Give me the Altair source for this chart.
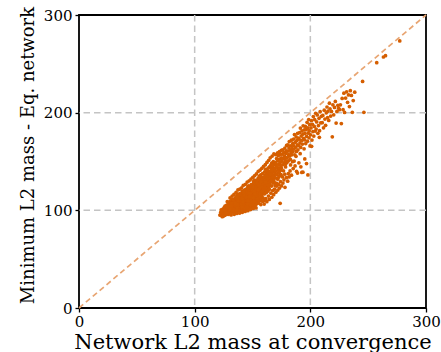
import altair as alt
import pandas as pd

# (network L2 mass at convergence, minimum L2 mass - Eq. network)
core_pts = [
    (121.8,95.2),(122.5,97.8),(123.1,94.6),(123.6,99.5),(124.0,96.9),(124.4,101.3),(124.8,94.1),(122.9,100.4),(124.6,98.2),(123.9,93.5),
    (125.1,96.3),(125.3,99.8),(125.5,102.7),(125.7,94.8),(125.9,98.4),(126.1,101.1),(126.2,104.3),(126.4,96.9),(126.6,99.2),(126.8,103.0),
    (127.0,95.6),(127.1,100.7),(127.3,97.9),(127.5,105.2),(127.6,102.1),(127.8,98.8),(128.0,96.2),(128.1,101.6),(128.3,104.5),(128.4,99.5),
    (128.6,97.4),(128.8,102.9),(128.9,106.3),(129.1,100.2),(129.2,95.9),(129.4,103.7),(129.5,98.1),(129.7,101.4),(129.8,105.8),(129.9,97.0),
    (125.8,100.5),(126.9,97.3),(127.9,103.6),(128.7,100.9),(129.6,99.3),
    (130.0,98.2),(130.1,102.5),(130.2,106.9),(130.3,100.1),(130.5,104.0),(130.6,109.3),(130.7,97.5),(130.8,101.8),(131.0,105.6),(131.1,99.4),
    (131.2,103.2),(131.3,108.0),(131.5,101.0),(131.6,106.2),(131.7,98.7),(131.8,104.7),(132.0,110.4),(132.1,102.3),(132.2,100.0),(132.3,107.5),
    (132.4,104.1),(132.6,98.9),(132.7,105.8),(132.8,102.0),(132.9,111.2),(133.0,100.6),(133.1,106.9),(133.2,103.5),(133.4,108.8),(133.5,99.6),
    (133.6,104.9),(133.7,101.7),(133.8,107.1),(134.0,103.0),(134.1,110.0),(134.2,98.3),(134.3,105.4),(134.4,101.2),(134.5,108.2),(134.6,103.9),
    (134.7,106.5),(134.8,100.4),(134.9,112.3),(130.4,103.1),(131.4,96.9),(132.5,103.8),(133.3,101.4),(133.9,105.2),(134.4,97.6),(131.9,106.8),
    (130.9,100.9),(132.9,99.3),(133.6,110.5),(134.2,107.7),(131.3,104.4),
    (135.0,101.5),(135.1,105.7),(135.2,110.2),(135.3,99.0),(135.4,103.4),(135.5,107.8),(135.6,113.6),(135.7,101.9),(135.8,106.3),(135.9,109.9),
    (136.0,104.0),(136.1,98.8),(136.2,111.7),(136.3,106.9),(136.4,102.6),(136.5,108.7),(136.6,115.0),(136.7,104.8),(136.8,100.5),(136.9,110.9),
    (137.0,107.3),(137.1,103.1),(137.2,113.0),(137.3,100.0),(137.4,105.9),(137.5,109.4),(137.6,102.2),(137.7,116.4),(137.8,107.0),(137.9,104.4),
    (138.0,111.5),(138.1,99.7),(138.2,106.1),(138.3,108.9),(138.4,102.8),(138.5,113.9),(138.6,105.3),(138.7,110.1),(138.8,101.0),(138.9,107.7),
    (139.0,104.6),(139.1,117.2),(139.2,109.0),(139.3,103.3),(139.4,112.4),(139.5,100.9),(139.6,106.7),(139.7,114.8),(139.8,108.3),(139.9,102.1),
    (135.5,104.6),(136.4,112.9),(137.3,110.5),(138.2,103.9),(139.2,106.0),(135.9,99.8),(136.8,107.9),(137.9,101.5),(138.7,115.8),(139.6,111.3),
    (135.2,107.1),(136.6,102.3),(137.5,106.4),(138.4,109.6),(139.4,105.0),
    (140.0,103.2),(140.1,107.9),(140.2,112.6),(140.3,100.4),(140.4,116.0),(140.5,105.5),(140.6,110.2),(140.7,98.9),(140.8,114.1),(140.9,108.3),
    (141.0,102.7),(141.1,119.3),(141.2,106.6),(141.3,111.8),(141.4,104.1),(141.5,109.4),(141.6,100.8),(141.7,115.6),(141.8,107.3),(141.9,112.9),
    (142.0,103.9),(142.1,117.8),(142.2,109.9),(142.3,101.6),(142.4,106.0),(142.5,113.7),(142.6,120.5),(142.7,104.8),(142.8,110.7),(142.9,108.1),
    (143.0,116.9),(143.1,102.3),(143.2,111.5),(143.3,106.8),(143.4,114.4),(143.5,99.9),(143.6,109.0),(143.7,118.6),(143.8,104.3),(143.9,112.2),
    (144.0,107.6),(144.1,121.4),(144.2,101.9),(144.3,115.2),(144.4,110.4),(144.5,105.1),(144.6,119.9),(144.7,108.7),(144.8,113.3),(144.9,103.5),
    (140.5,109.1),(141.4,113.2),(142.3,107.4),(143.2,104.9),(144.1,116.4),(140.9,111.3),(141.8,105.0),(142.7,115.1),(143.6,112.8),(144.5,108.0),
    (140.2,106.1),(141.1,103.4),(142.0,111.0),(142.9,117.5),(143.8,110.0),(144.7,106.4),(141.6,108.6),(143.4,101.2),(144.3,113.9),(142.4,119.0),
    (145.0,104.5),(145.1,109.8),(145.2,115.1),(145.3,120.4),(145.4,102.0),(145.5,112.3),(145.6,107.2),(145.7,117.7),(145.8,123.5),(145.9,110.6),
    (146.0,105.9),(146.1,114.0),(146.2,119.0),(146.3,101.3),(146.4,108.5),(146.5,116.6),(146.6,111.9),(146.7,125.1),(146.8,106.7),(146.9,113.4),
    (147.0,121.2),(147.1,103.6),(147.2,109.3),(147.3,118.1),(147.4,115.8),(147.5,107.9),(147.6,112.7),(147.7,124.2),(147.8,104.9),(147.9,119.6),
    (148.0,110.9),(148.1,116.2),(148.2,102.8),(148.3,113.8),(148.4,122.6),(148.5,108.1),(148.6,118.9),(148.7,106.0),(148.8,114.6),(148.9,126.3),
    (149.0,111.4),(149.1,104.2),(149.2,120.8),(149.3,109.7),(149.4,116.9),(149.5,113.0),(149.6,123.9),(149.7,107.5),(149.8,118.4),(149.9,105.3),
    (145.5,118.8),(146.4,122.3),(147.3,111.1),(148.2,117.4),(149.1,114.1),(145.9,106.3),(146.8,117.3),(147.7,108.8),(148.6,112.0),(149.5,110.2),
    (145.3,113.6),(146.2,110.0),(147.5,114.5),(148.4,105.6),(149.3,121.9),
    (150.0,108.4),(150.1,114.7),(150.2,120.6),(150.3,126.2),(150.4,105.2),(150.5,111.9),(150.6,117.3),(150.7,123.0),(150.8,129.5),(150.9,109.6),
    (151.0,115.5),(151.1,121.7),(151.2,106.6),(151.3,112.8),(151.4,127.4),(151.5,118.4),(151.6,124.8),(151.7,110.3),(151.8,116.1),(151.9,131.0),
    (152.0,104.0),(152.1,119.9),(152.2,113.5),(152.3,125.6),(152.4,108.9),(152.5,122.4),(152.6,117.0),(152.7,128.8),(152.8,111.2),(152.9,120.0),
    (153.0,106.1),(153.1,126.9),(153.2,114.3),(153.3,119.1),(153.4,123.7),(153.5,109.2),(153.6,116.8),(153.7,130.2),(153.8,112.1),(153.9,121.3),
    (154.0,107.3),(154.1,125.0),(154.2,118.0),(154.3,128.1),(154.4,113.9),(154.5,122.9),(154.6,110.7),(154.7,132.4),(154.8,116.4),(154.9,120.3),
    (150.6,113.1),(151.5,109.1),(152.4,118.7),(153.3,115.9),(154.2,124.2),(150.2,124.4),(151.1,119.2),(152.0,116.6),(153.0,122.1),(154.0,111.6),
    (155.0,112.0),(155.2,118.3),(155.3,124.4),(155.4,130.7),(155.6,115.2),(155.7,121.6),(155.8,127.3),(155.9,135.0),(156.0,109.7),(156.2,119.5),
    (156.3,125.9),(156.5,132.2),(156.6,114.2),(156.7,122.8),(156.9,128.6),(157.0,117.6),(157.1,136.4),(157.3,111.3),(157.4,124.0),(157.5,120.1),
    (157.7,130.0),(157.8,126.5),(157.9,116.0),(158.0,133.6),(158.2,121.0),(158.3,113.4),(158.4,127.8),(158.6,123.2),(158.7,137.6),(158.8,118.8),
    (159.0,131.3),(159.1,125.2),(159.2,112.6),(159.4,120.8),(159.5,134.1),(159.6,128.0),(159.8,116.9),(159.9,123.6),(155.5,126.0),(156.1,123.1),
    (156.8,118.1),(157.6,127.0),(158.1,124.6),(158.9,129.4),(159.7,121.9),(155.1,121.2),(156.4,116.7),(157.2,129.1),(158.5,119.4),(159.3,126.7),
    (160.0,120.2),(160.2,126.8),(160.3,133.5),(160.5,139.4),(160.6,117.1),(160.8,129.9),(161.0,123.5),(161.1,136.1),(161.3,127.4),(161.4,142.0),
    (161.6,120.8),(161.7,131.6),(161.9,125.1),(162.0,137.9),(162.2,118.4),(162.3,134.2),(162.5,128.7),(162.6,122.6),(162.8,140.6),(162.9,131.0),
    (163.1,125.8),(163.2,136.8),(163.4,119.9),(163.5,143.3),(163.7,129.2),(163.8,133.9),(164.0,123.9),(164.1,138.6),(164.3,127.0),(164.4,131.9),
    (164.6,121.5),(164.7,144.5),(164.9,135.3),(160.4,110.3),(161.8,129.0),(162.7,132.8),(163.6,126.3),(164.2,134.9),(160.9,134.8),(164.8,128.8),
    (165.0,126.1),(165.2,133.0),(165.4,139.8),(165.6,145.9),(165.8,129.7),(166.0,136.4),(166.2,142.5),(166.4,124.8),(166.6,148.3),(166.8,131.5),
    (167.0,138.7),(167.2,134.1),(167.4,144.1),(167.6,127.9),(167.8,140.9),(168.0,150.0),(168.2,136.0),(168.4,130.3),(168.6,146.7),(168.8,139.2),
    (169.0,133.6),(169.2,143.0),(169.4,128.2),(169.6,148.9),(169.8,137.1),(165.5,136.9),(166.3,130.2),(167.1,146.0),(167.9,133.8),(168.7,142.1),
    (169.5,125.3),(166.9,141.4),
    (170.0,133.2),(170.3,140.1),(170.5,147.4),(170.8,153.0),(171.0,136.8),(171.3,144.2),(171.5,150.6),(171.8,131.9),(172.0,141.7),(172.3,155.9),
    (172.5,138.4),(172.8,147.1),(173.0,143.5),(173.3,152.3),(173.5,135.6),(173.8,149.0),(174.0,157.4),(174.3,141.0),(174.5,145.8),(174.8,153.6),
    (171.1,127.5),(172.6,134.0),(173.9,107.2),(170.6,145.0),(173.2,139.3),(174.7,136.5),
]

# fringe of the dense blob (lower-right, upper-left and bottom edges)
fringe_pts = [
    (155.5,107.5),(157.2,105.9),(158.8,109.1),(160.1,106.4),(161.5,112.0),(162.4,108.8),(163.8,114.6),(164.5,111.2),(165.9,117.5),(166.7,113.4),
    (167.5,120.3),(168.3,116.0),(169.1,121.8),(170.2,118.6),(170.9,124.9),(171.9,120.7),(172.7,126.4),(173.4,122.8),(174.2,129.3),(175.1,125.0),
    (176.3,127.9),(177.2,131.2),(178.1,123.6),(179.3,133.5),(180.4,129.9),(181.6,134.2),(182.5,140.3),(183.7,136.0),(185.2,142.8),(186.8,145.5),
    (188.1,139.9),(190.1,148.7),(191.8,144.6),(193.6,139.0),(195.2,152.6),(196.7,147.9),
    (128.2,108.9),(130.6,112.7),(132.4,114.6),(134.0,116.3),(135.8,118.5),(137.4,120.9),(139.0,121.6),(140.6,123.0),(142.1,125.6),(143.9,126.7),
    (145.4,128.9),(147.1,130.2),(148.7,132.0),(150.3,133.8),(151.9,135.6),(153.4,137.3),(155.0,139.9),(156.6,141.2),(158.1,143.0),(159.6,145.1),
    (161.1,146.8),(162.5,149.0),(164.0,151.2),(165.3,153.8),(167.0,155.6),(168.5,157.9),(170.1,157.0),(171.7,158.8),(173.3,160.1),(175.0,161.5),
    (131.5,95.3),(134.2,95.9),(136.5,96.8),(138.9,97.2),(141.2,98.0),(143.6,98.9),(146.0,99.6),(148.3,100.8),(150.7,101.9),(153.1,102.4),
]

tail_pts = [
    (175.0,143.1),(175.3,150.2),(175.6,157.5),(175.9,146.6),(176.2,162.0),(176.5,153.3),(176.8,140.5),(177.1,159.0),(177.4,148.6),(177.7,155.4),
    (178.0,163.8),(178.3,151.1),(178.6,144.4),(178.9,158.2),(179.2,153.9),(179.5,166.5),(179.8,149.0),(176.0,134.2),(177.9,137.0),(179.0,160.8),
    (175.8,152.7),(178.5,147.1),
    (180.0,153.8),(180.3,160.5),(180.6,167.1),(180.9,150.6),(181.2,157.0),(181.5,163.9),(181.8,170.4),(182.1,155.6),(182.4,161.7),(182.7,152.2),
    (183.0,166.0),(183.3,159.3),(183.6,171.8),(183.9,156.9),(184.2,163.2),(184.5,149.8),(184.8,168.5),(181.0,137.6),(182.9,146.5),(184.0,160.1),
    (185.0,159.9),(185.3,166.4),(185.6,173.0),(185.9,162.7),(186.3,177.6),(186.6,156.8),(187.0,169.7),(187.3,164.5),(187.7,175.1),(188.0,160.3),
    (188.3,171.4),(188.7,167.0),(189.0,178.8),(189.3,162.0),(189.7,173.9),(188.9,138.2),(186.0,150.4),(187.6,155.3),
    (190.0,166.2),(190.3,172.8),(190.7,179.5),(191.0,169.0),(191.4,184.2),(191.7,164.4),(192.1,176.1),(192.4,171.5),(192.8,181.3),(193.1,167.8),
    (193.5,178.0),(193.8,186.5),(194.2,173.6),(194.6,163.0),(194.9,182.4),(192.6,138.8),(191.2,158.0),
    (195.0,172.1),(195.3,178.9),(195.7,186.0),(196.0,168.4),(196.4,182.6),(196.8,175.7),(197.2,190.1),(197.5,170.8),(197.9,184.5),(198.2,179.0),
    (198.6,193.0),(198.9,174.2),(199.3,187.8),(199.7,165.9),(197.9,136.3),(199.0,181.5),
    (200.2,177.3),(200.6,184.4),(201.0,191.9),(201.4,172.0),(201.8,188.1),(202.2,180.6),(202.6,196.0),(203.0,176.0),(203.4,185.9),(203.8,192.8),
    (204.2,181.2),(204.6,199.4),(201.1,165.6),
    (205.0,183.2),(205.5,190.5),(206.0,197.7),(206.5,178.9),(207.0,186.8),(207.5,194.2),(208.0,181.5),(208.5,201.0),(209.0,189.6),(209.5,196.3),
    (207.8,174.8),
    (210.3,189.7),(210.8,197.2),(211.4,184.5),(212.0,202.6),(212.6,193.4),(213.2,187.0),(213.8,199.8),(214.4,205.8),(214.9,194.9),
    (215.3,201.6),(215.9,192.0),(216.5,209.7),(217.0,204.0),(217.6,196.5),(218.3,201.3),(219.0,175.3),(219.5,208.0),
    (220.2,197.8),(220.9,205.4),(221.6,211.5),(222.3,189.3),(223.0,201.2),(223.8,207.5),(224.5,204.6),
    (225.2,203.1),(226.0,208.0),(226.8,188.9),(227.5,214.6),(228.3,203.0),(229.0,220.0),(229.6,200.2),
    (230.5,215.0),(231.4,221.3),(232.2,210.6),(233.0,218.2),(233.8,206.3),(234.6,222.5),
    (235.5,217.6),(236.3,200.3),(237.1,212.4),(238.4,221.0),
]

outlier_pts = [(245.2,232.0),(246.3,200.4),(257.4,251.2),(263.2,257.0),(265.0,258.4),(277.3,273.5)]

axis_ticks = [0, 100, 200, 300]
grid_vals = [100, 200]
diag_ends = [0, 300]

df = pd.DataFrame(core_pts + fringe_pts + tail_pts + outlier_pts, columns=["conv", "minmass"])
diag_df = pd.DataFrame({"conv": diag_ends, "minmass": diag_ends})
grid_df = pd.DataFrame({"g": grid_vals})

FONT = "DejaVu Serif"
W, H = 347, 293
PT_COLOR = "#d55e00"
LINE_COLOR = "#e8a572"
GRID_COLOR = "#c4c4c4"

xscale = alt.Scale(domain=[0, 300], nice=False, zero=False)
yscale = alt.Scale(domain=[0, 300], nice=False, zero=False)

common_axis = dict(
    values=axis_ticks, labelFont=FONT, labelFontSize=15, labelColor="black",
    tickSize=4, tickColor="black", tickWidth=1.3, domain=False, grid=False,
    titleFont=FONT, titleFontWeight="normal", titleColor="black",
    titleAlign="center", titleBaseline="alphabetic", labelFlush=False,
)

x_axis = alt.Axis(title="Network L2 mass at convergence", titleFontSize=21,
                  titleX=W / 2, titleY=40, labelPadding=2, **common_axis)
y_axis = alt.Axis(title="Minimum L2 mass - Eq. network", titleFontSize=18,
                  titleAngle=270, titleX=-46, titleY=140, labelPadding=3, **common_axis)

vgrid = alt.Chart(grid_df).mark_rule(color=GRID_COLOR, strokeDash=[6.5, 4], strokeWidth=1.5).encode(
    x=alt.X("g:Q", scale=xscale, axis=x_axis))
hgrid = alt.Chart(grid_df).mark_rule(color=GRID_COLOR, strokeDash=[6.5, 4], strokeWidth=1.5).encode(
    y=alt.Y("g:Q", scale=yscale, axis=y_axis))

points = alt.Chart(df).mark_circle(size=14, color=PT_COLOR, opacity=1).encode(
    x=alt.X("conv:Q", scale=xscale, axis=x_axis),
    y=alt.Y("minmass:Q", scale=yscale, axis=y_axis),
)

diag = alt.Chart(diag_df).mark_line(color=LINE_COLOR, strokeDash=[5.5, 3.5], strokeWidth=1.7).encode(
    x=alt.X("conv:Q", scale=xscale, axis=x_axis),
    y=alt.Y("minmass:Q", scale=yscale, axis=y_axis),
)

chart = alt.layer(vgrid, hgrid, diag, points).properties(
    width=W, height=H,
    background="white",
    autosize=alt.AutoSizeParams(type="none"),
    padding={"left": 79, "top": 15, "right": 15, "bottom": 44},
).configure_view(stroke="black", strokeWidth=1.8)

chart.save("out.html", embed_options={"renderer": "svg", "actions": False})
